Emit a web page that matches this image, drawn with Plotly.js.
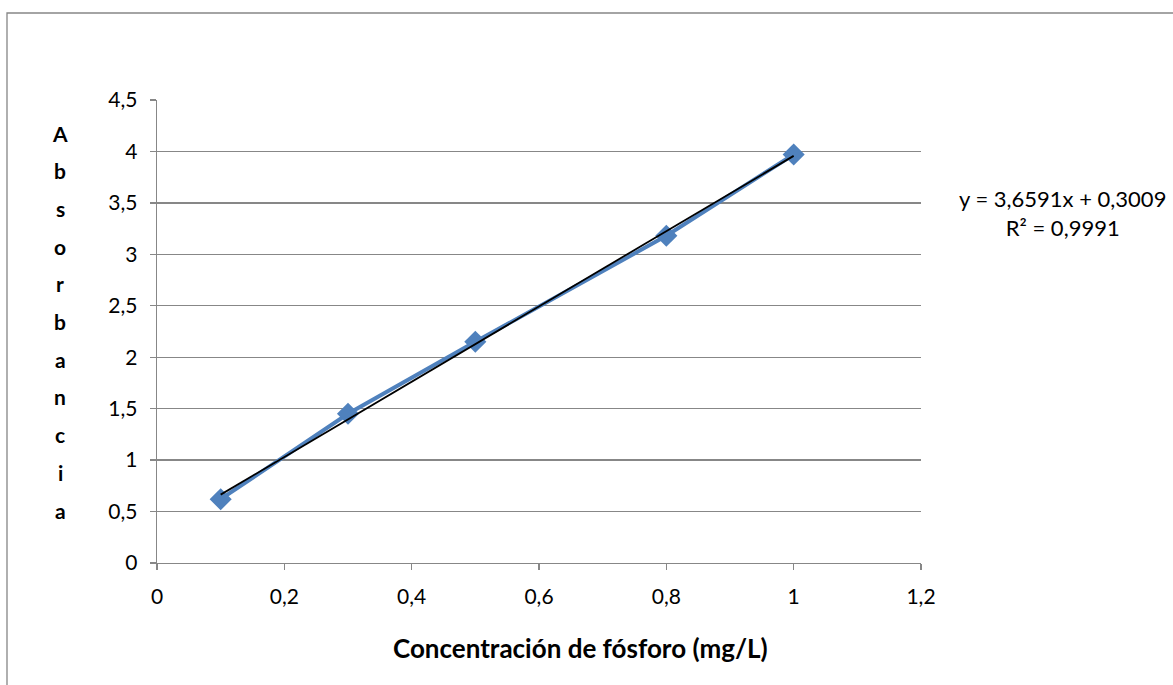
<!DOCTYPE html>
<html>
<head>
<meta charset="utf-8">
<script src="https://cdn.plot.ly/plotly-3.0.1.min.js"></script>
<style>
  html, body { margin: 0; padding: 0; background: #ffffff; }
  #chart { width: 1173px; height: 685px; }
</style>
</head>
<body>
<div id="chart"></div>
<script>
// Data
const concentration = [0.1, 0.3, 0.5, 0.8, 1.0];
const absorbance = [0.62, 1.45, 2.15, 3.18, 3.97];
const xTickVals = [0, 0.2, 0.4, 0.6, 0.8, 1, 1.2];
const xTickText = ["0", "0,2", "0,4", "0,6", "0,8", "1", "1,2"];
const yTickVals = [0, 0.5, 1, 1.5, 2, 2.5, 3, 3.5, 4, 4.5];
const yTickText = ["0", "0,5", "1", "1,5", "2", "2,5", "3", "3,5", "4", "4,5"];
const xTitle = "Concentración de fósforo (mg/L)";
const yTitle = "Absorbancia";
const trendLabel = ["y = 3,6591x + 0,3009", "R² = 0,9991"];

// Linear least-squares fit computed from the data
const n = concentration.length;
const mx = concentration.reduce((a, b) => a + b, 0) / n;
const my = absorbance.reduce((a, b) => a + b, 0) / n;
let sxy = 0, sxx = 0;
for (let i = 0; i < n; i++) {
  sxy += (concentration[i] - mx) * (absorbance[i] - my);
  sxx += (concentration[i] - mx) ** 2;
}
const slope = sxy / sxx;
const intercept = my - slope * mx;
const fitX = [Math.min(...concentration), Math.max(...concentration)];
const fitY = fitX.map(x => slope * x + intercept);

const FONT = "Lato, 'Open Sans', sans-serif";
const GRID = "#878787";

const traces = [
  {
    x: concentration, y: absorbance,
    type: "scatter", mode: "lines+markers",
    line: { color: "#4F81BD", width: 4 },
    marker: { symbol: "diamond", size: 17, color: "#4F81BD" },
    hoverinfo: "x+y", showlegend: false
  },
  {
    x: fitX, y: fitY,
    type: "scatter", mode: "lines",
    line: { color: "#000000", width: 1.8 },
    hoverinfo: "skip", showlegend: false
  }
];

const annotations = [];
// vertical stacked y-axis title
const letters = yTitle.split("");
const topY = (563 - 133) / 463, step = 37.7 / 463;
letters.forEach((ch, i) => {
  annotations.push({
    text: "<b>" + ch + "</b>", xref: "paper", yref: "paper",
    x: (60 - 157) / 764, y: topY - i * step,
    xanchor: "center", yanchor: "middle", showarrow: false,
    font: { family: FONT, size: 21, color: "#000" }
  });
});
annotations.push({
  text: "<b>" + xTitle + "</b>", xref: "paper", yref: "paper",
  x: (580 - 157) / 764, y: (563 - 648) / 463, xanchor: "center", yanchor: "middle",
  showarrow: false, font: { family: FONT, size: 26, color: "#000" }
});
annotations.push({
  text: trendLabel.join("<br>"), xref: "paper", yref: "paper",
  x: (1062 - 157) / 764, y: (563 - 213) / 463, xanchor: "center", yanchor: "middle",
  align: "center", showarrow: false, font: { family: FONT, size: 22, color: "#000" }
});

const layout = {
  width: 1173, height: 685,
  margin: { l: 157, r: 252, t: 100, b: 122, pad: 0 },
  paper_bgcolor: "#ffffff", plot_bgcolor: "#ffffff",
  font: { family: FONT, size: 21, color: "#000" },
  showlegend: false,
  xaxis: {
    range: [0, 1.2], tickvals: xTickVals, ticktext: xTickText,
    showgrid: false, zeroline: false,
    showline: true, linecolor: GRID, linewidth: 1.3,
    ticks: "outside", ticklen: 6, tickcolor: GRID, tickwidth: 1.3,
    ticklabelstandoff: 8,
    tickfont: { family: FONT, size: 21, color: "#000" }
  },
  yaxis: {
    range: [0, 4.5], tickvals: yTickVals, ticktext: yTickText,
    showgrid: true, gridcolor: GRID, gridwidth: 1.3, zeroline: false,
    showline: true, linecolor: GRID, linewidth: 1.3,
    ticks: "outside", ticklen: 6, tickcolor: GRID, tickwidth: 1.3,
    ticklabelstandoff: 8,
    tickfont: { family: FONT, size: 21, color: "#000" }
  },
  annotations: annotations,
  shapes: [{
    type: "rect", xref: "paper", yref: "paper",
    x0: (7 - 157) / 764, x1: 1.6, y0: -0.5, y1: (563 - 13) / 463,
    line: { color: "#868686", width: 1.3 }, fillcolor: "rgba(0,0,0,0)",
    layer: "below"
  }]
};

Plotly.newPlot("chart", traces, layout, { displayModeBar: false, staticPlot: true });
</script>
</body>
</html>
